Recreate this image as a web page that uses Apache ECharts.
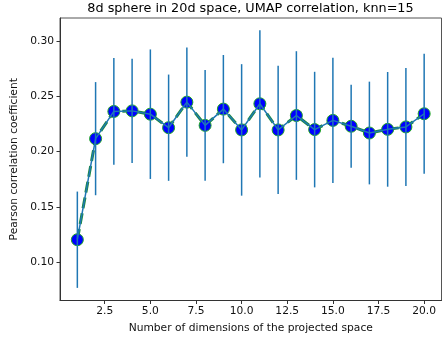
<!DOCTYPE html>
<html>
<head>
<meta charset="utf-8">
<script src="https://cdn.jsdelivr.net/npm/echarts@6/dist/echarts.min.js"></script>
<style>html,body{margin:0;padding:0;background:#fff}#c{width:444px;height:343px}</style>
</head>
<body>
<div id="c"></div>
<script>
const dims = [1,2,3,4,5,6,7,8,9,10,11,12,13,14,15,16,17,18,19,20];
const meanCorr = [0.1203,0.2116,0.2362,0.2367,0.2337,0.2215,0.2446,0.2236,0.2383,0.2195,0.2431,0.2195,0.2325,0.2198,0.2281,0.2228,0.2167,0.2200,0.2222,0.2341];
const stdCorr = [0.0435,0.0511,0.0482,0.0471,0.0585,0.0480,0.0494,0.0501,0.0489,0.0594,0.0665,0.0579,0.0581,0.0522,0.0566,0.0374,0.0464,0.0518,0.0533,0.0542];
const xTicks = [2.5,5,7.5,10,12.5,15,17.5,20];
const yTicks = [0.10,0.15,0.20,0.25,0.30];

const pts = dims.map((d,i)=>[d, meanCorr[i]]);
const bars = dims.map((d,i)=>[d, meanCorr[i]-stdCorr[i], meanCorr[i]+stdCorr[i]]);
const font = 'DejaVu Sans';
const chart = echarts.init(document.getElementById('c'), null, {renderer:'canvas'});
chart.setOption({
  animation:false,
  backgroundColor:'#fff',
  title:{text:'8d sphere in 20d space, UMAP correlation, knn=15', left:245.5, top:-3, textAlign:'center',
    textStyle:{fontFamily:font, fontSize:12.8, fontWeight:'normal', color:'#000'}},
  grid:{left:60, right:2.5, top:18, bottom:42.5, show:true, borderColor:'#555', borderWidth:1, backgroundColor:'transparent'},
  xAxis:{type:'value', min:0.05, max:20.95,
    name:'Number of dimensions of the projected space', nameLocation:'middle', nameGap:22,
    nameTextStyle:{fontFamily:font, fontSize:10.7, color:'#111'},
    axisLine:{show:true, onZero:false, lineStyle:{color:'#333', width:1}},
    axisTick:{show:true, length:3.5, customValues:xTicks, lineStyle:{color:'#333'}},
    axisLabel:{customValues:xTicks, margin:5, fontFamily:font, fontSize:10.7, color:'#111', formatter:v=>v.toFixed(1)},
    splitLine:{show:false}},
  yAxis:{type:'value', min:0.0654, max:0.3206,
    name:'Pearson correlation coefficient', nameLocation:'middle', nameGap:36,
    nameTextStyle:{fontFamily:font, fontSize:10.7, color:'#111'},
    axisLine:{show:true, onZero:false, lineStyle:{color:'#333', width:1}},
    axisTick:{show:true, length:3.5, customValues:yTicks, lineStyle:{color:'#333'}},
    axisLabel:{customValues:yTicks, margin:6, fontFamily:font, fontSize:10.7, color:'#111', formatter:v=>v.toFixed(2)},
    splitLine:{show:false}},
  series:[
    {type:'line', data:pts, z:2, symbol:'circle', symbolSize:12, showSymbol:true,
      lineStyle:{color:'#1a8a3a', width:3, type:[11,5]},
      itemStyle:{color:'#0000ff', borderColor:'#22aa22', borderWidth:1}},
    {type:'line', data:pts, z:3, symbol:'none', lineStyle:{color:'#1f77b4', width:1.5}},
    {type:'custom', z:4, data:bars,
      renderItem:(params, api)=>{
        const top = api.coord([api.value(0), api.value(2)]);
        const bot = api.coord([api.value(0), api.value(1)]);
        return {type:'line', shape:{x1:top[0], y1:top[1], x2:bot[0], y2:bot[1]},
          style:{stroke:'#1f77b4', lineWidth:1.5}};
      }}
  ]
});
</script>
</body>
</html>
